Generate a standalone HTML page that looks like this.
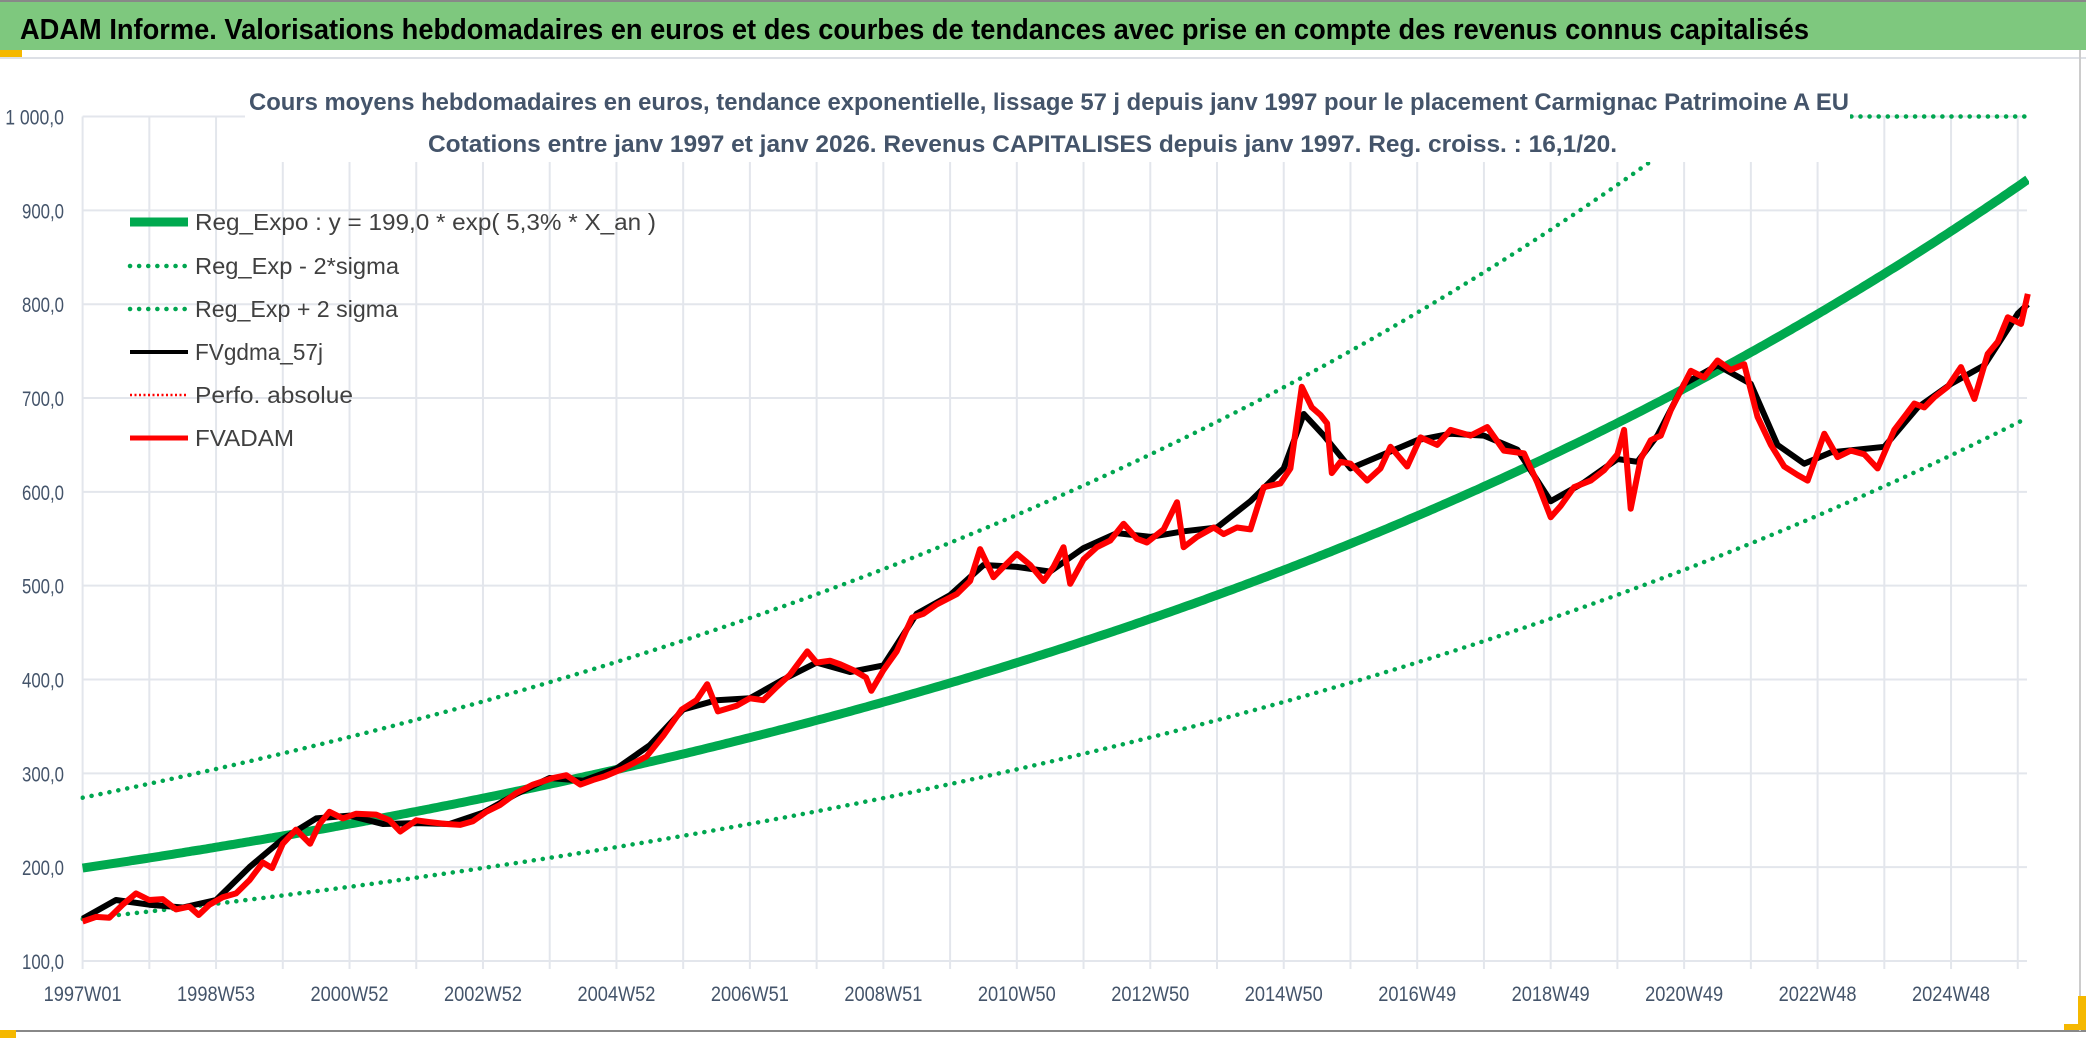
<!DOCTYPE html>
<html><head><meta charset="utf-8"><style>
html,body{margin:0;padding:0;background:#fff;}
svg{display:block;font-family:"Liberation Sans",sans-serif;}
</style></head><body>
<svg id="chart" width="2086" height="1038" viewBox="0 0 2086 1038" xmlns="http://www.w3.org/2000/svg">
<rect x="0" y="0" width="2086" height="1038" fill="#fff"/>
<rect x="0" y="2" width="2086" height="48" fill="#7ec87e"/>
<line x1="0" y1="1" x2="2086" y2="1" stroke="#888" stroke-width="2"/>
<rect x="0" y="50" width="22" height="7" fill="#f5b800"/>
<line x1="0" y1="58" x2="2086" y2="58" stroke="#dde0e6" stroke-width="2"/>
<line x1="0" y1="1031" x2="2086" y2="1031" stroke="#888" stroke-width="2"/>
<line x1="2080" y1="50" x2="2080" y2="1031" stroke="#ccc" stroke-width="2"/>
<rect x="0" y="1030" width="16" height="8" fill="#f5b800"/>
<rect x="2064" y="996" width="22" height="34" fill="#f5b800"/>
<rect x="2064" y="996" width="14" height="28" fill="#fff"/>
<text x="20" y="39" font-size="29" font-weight="bold" fill="#000" textLength="1789" lengthAdjust="spacingAndGlyphs">ADAM Informe. Valorisations hebdomadaires en euros et des courbes de tendances avec prise en compte des revenus connus capitalisés</text>
<g id="grid"></g>
<g id="series"></g>
<rect x="245" y="82" width="1605" height="80" fill="#fff"/>
<text x="249" y="110" font-size="24" font-weight="bold" fill="#44546a" textLength="1600" lengthAdjust="spacingAndGlyphs">Cours moyens hebdomadaires en euros, tendance exponentielle, lissage 57 j depuis janv 1997 pour le placement Carmignac Patrimoine A EU</text>
<text x="428" y="152" font-size="24" font-weight="bold" fill="#44546a" textLength="1189" lengthAdjust="spacingAndGlyphs">Cotations entre janv 1997 et janv 2026. Revenus CAPITALISES depuis janv 1997. Reg. croiss. : 16,1/20.</text>
<g id="axes"></g>
<g id="legend"></g>
</svg>
<script>
const yTicks=[100,200,300,400,500,600,700,800,900,1000];
const yTickLabels=["100,0","200,0","300,0","400,0","500,0","600,0","700,0","800,0","900,0","1 000,0"];
const xTickLabels=["1997W01","1998W53","2000W52","2002W52","2004W52","2006W51","2008W51","2010W50","2012W50","2014W50","2016W49","2018W49","2020W49","2022W48","2024W48"];
const regA=199.0;
const regRate=0.053;
const sigmaLowFactor=0.728;
const sigmaHighFactor=1.377;
const redYears=[1997.0,1997.2,1997.4,1997.6,1997.8,1998.0,1998.2,1998.4,1998.6,1998.74,1998.9,1999.1,1999.3,1999.5,1999.7,1999.84,2000.0,2000.2,2000.41,2000.55,2000.7,2000.9,2001.1,2001.4,2001.6,2001.76,2002.0,2002.2,2002.45,2002.66,2002.85,2003.05,2003.25,2003.5,2003.75,2004.05,2004.25,2004.46,2004.65,2004.83,2005.1,2005.45,2005.7,2005.98,2006.2,2006.36,2006.52,2006.8,2007.0,2007.2,2007.4,2007.6,2007.86,2008.0,2008.2,2008.36,2008.55,2008.74,2008.82,2009.0,2009.2,2009.43,2009.6,2009.8,2010.1,2010.3,2010.45,2010.65,2010.8,2011.0,2011.2,2011.4,2011.55,2011.7,2011.8,2012.0,2012.2,2012.4,2012.6,2012.8,2012.95,2013.2,2013.4,2013.5,2013.7,2013.95,2014.1,2014.3,2014.5,2014.7,2014.95,2015.1,2015.27,2015.42,2015.55,2015.65,2015.72,2015.85,2016.0,2016.25,2016.45,2016.6,2016.85,2017.05,2017.3,2017.5,2017.8,2018.05,2018.3,2018.6,2018.8,2019.0,2019.15,2019.35,2019.6,2019.8,2020.0,2020.1,2020.2,2020.35,2020.5,2020.65,2020.8,2021.1,2021.3,2021.5,2021.7,2021.9,2022.1,2022.3,2022.5,2022.7,2022.85,2023.1,2023.3,2023.5,2023.7,2023.9,2024.15,2024.3,2024.45,2024.6,2024.75,2024.95,2025.15,2025.35,2025.55,2025.7,2025.85,2026.05,2026.15];
const redValues=[142,147,146,160,172,165,166,155,158,149,160,168,172,186,205,199,225,240,225,246,259,252,257,256,250,238,250,248,246,245,249,259,266,279,288,295,298,288,293,297,305,318,340,368,378,395,366,372,380,378,392,405,430,418,420,416,410,402,388,410,430,466,470,480,491,505,539,509,520,534,522,505,520,541,502,528,541,548,566,550,546,560,589,541,552,562,555,562,560,605,609,625,712,690,682,673,620,632,630,612,625,648,627,658,650,666,660,669,644,641,610,573,585,605,612,623,640,666,582,635,655,660,687,729,722,740,730,736,680,650,627,618,612,662,637,644,640,625,666,680,694,690,701,712,733,699,747,760,786,779,811];
const blackYears=[1997.0,1997.5,1998.0,1998.5,1999.0,1999.5,2000.0,2000.5,2001.0,2001.5,2002.0,2002.5,2003.0,2003.5,2004.0,2004.5,2005.0,2005.5,2006.0,2006.5,2007.0,2007.5,2008.0,2008.5,2009.0,2009.5,2010.0,2010.5,2011.0,2011.5,2012.0,2012.5,2013.0,2013.5,2014.0,2014.5,2015.0,2015.3,2015.6,2016.0,2016.5,2017.0,2017.5,2018.0,2018.5,2019.0,2019.5,2020.0,2020.3,2020.6,2021.0,2021.5,2022.0,2022.4,2022.8,2023.2,2023.6,2024.0,2024.5,2025.0,2025.5,2026.0,2026.15];
const blackValues=[145,165,160,157,165,200,230,252,255,246,247,246,258,278,295,292,305,330,368,378,380,400,418,408,415,470,490,522,520,515,540,556,552,558,562,590,625,683,660,625,640,655,662,660,645,590,610,635,632,660,715,735,715,650,630,642,645,648,690,715,735,790,800];

const NS="http://www.w3.org/2000/svg";
const X0=82.6, YR=66.73, Y100=961, PX=0.9383, XMAX=2027;
const xS=yr=>X0+(yr-1997)*YR;
const yS=v=>Y100-(v-100)*PX;
function mk(tag,attrs,parent){const e=document.createElementNS(NS,tag);for(const k in attrs)e.setAttribute(k,attrs[k]);parent.appendChild(e);return e;}
const grid=document.getElementById('grid'),axes=document.getElementById('axes'),series=document.getElementById('series'),legend=document.getElementById('legend');
yTicks.forEach((v,i)=>{
  const l=mk('line',{x1:X0,x2:XMAX,y1:yS(v),y2:yS(v),stroke:'#e3e6ec','stroke-width':2},grid);
  
  
  const s=yTickLabels[i];
  const t=mk('text',{x:64,y:yS(v)+8,'text-anchor':'end','font-size':21,fill:'#44546a',textLength:s.length*8.4,lengthAdjust:'spacingAndGlyphs'},axes);
  t.textContent=s;
  
  
});
for(let k=0;k<=29;k++){
  const x=X0+k*YR;
  const l=mk('line',{x1:x,x2:x,y1:yS(1000),y2:Y100+8,stroke:'#e3e6ec','stroke-width':2},grid);
  
  
}
xTickLabels.forEach((s,i)=>{
  const t=mk('text',{x:X0+i*2*YR,y:1001,'text-anchor':'middle','font-size':21,fill:'#44546a',textLength:78,lengthAdjust:'spacingAndGlyphs'},axes);
  t.textContent=s;
  
  
});
const defs=mk('defs',{},document.getElementById('chart'));
const cp=mk('clipPath',{id:'plotclip'},defs);
mk('rect',{x:X0-2,y:yS(1000)-4,width:XMAX-X0+4,height:Y100-yS(1000)+8},cp);
function curvePath(f){let d='';for(let yr=1997;yr<=2026.15;yr+=0.05){const v=Math.min(1000,f(yr));d+=(d?'L':'M')+xS(yr).toFixed(1)+','+yS(v).toFixed(1);}return d;}
const reg=yr=>regA*Math.exp(regRate*(yr-1997));
const lo=mk('path',{d:curvePath(yr=>reg(yr)*sigmaLowFactor),fill:'none',stroke:'#00a650','stroke-width':4.5,'stroke-dasharray':'0.1 9','stroke-linecap':'round','clip-path':'url(#plotclip)'},series);


const hi=mk('path',{d:curvePath(yr=>reg(yr)*sigmaHighFactor),fill:'none',stroke:'#00a650','stroke-width':4.5,'stroke-dasharray':'0.1 9','stroke-linecap':'round','clip-path':'url(#plotclip)'},series);


const mn=mk('path',{d:curvePath(reg),fill:'none',stroke:'#00a94f','stroke-width':9,'clip-path':'url(#plotclip)'},series);


function dataPath(xs,vs){return xs.map((x,i)=>(i?'L':'M')+xS(x).toFixed(1)+','+yS(vs[i]).toFixed(1)).join('');}
const bl=mk('path',{d:dataPath(blackYears,blackValues),fill:'none',stroke:'#000','stroke-width':6,'stroke-linejoin':'round'},series);


const rd=mk('path',{d:dataPath(redYears,redValues),fill:'none',stroke:'#ff0000','stroke-width':6,'stroke-linejoin':'round'},series);


const leg=[["Reg_Expo : y = 199,0 * exp( 5,3% *  X_an )",'#00a94f',9,null,461],["Reg_Exp - 2*sigma",'#00a650',4.5,'0.1 9',204],["Reg_Exp + 2 sigma",'#00a650',4.5,'0.1 9',203],["FVgdma_57j",'#000',4,null,128],["Perfo. absolue",'#ff0000',2.5,'2 2.5',158],["FVADAM",'#ff0000',5,null,99]];
const ly=[222,266,309,352,395,438];
leg.forEach((e,i)=>{
  const g=mk('g',{},legend);
  
  
  const a={x1:130,x2:188,y1:ly[i],y2:ly[i],stroke:e[1],'stroke-width':e[2]};
  if(e[3]){a['stroke-dasharray']=e[3];a['stroke-linecap']=e[3].startsWith('0.1')?'round':'butt';}
  mk('line',a,g);
  const t=mk('text',{x:195,y:ly[i]+8,'font-size':23,fill:'#404040',textLength:e[4],lengthAdjust:'spacingAndGlyphs'},g);
  t.textContent=e[0];
});
</script>
</body></html>
